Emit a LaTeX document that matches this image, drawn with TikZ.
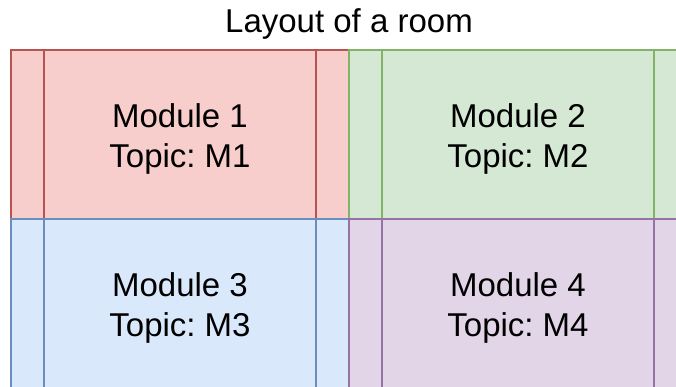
\documentclass[tikz,border=0pt]{standalone}
\usepackage{fontspec}
\setmainfont{Liberation Sans}
\usetikzlibrary{positioning}

\definecolor{fillred}{HTML}{F8CECC}
\definecolor{linered}{HTML}{B85450}
\definecolor{fillgreen}{HTML}{D5E8D4}
\definecolor{linegreen}{HTML}{82B366}
\definecolor{fillblue}{HTML}{DAE8FC}
\definecolor{lineblue}{HTML}{6C8EBF}
\definecolor{fillpurple}{HTML}{E1D5E7}
\definecolor{linepurple}{HTML}{9673A6}

\tikzset{
    module/.style={rectangle, draw=line#1, fill=fill#1, line width=2pt,
        minimum width=338pt, minimum height=169pt, inner sep=0pt},
    label/.style={align=center, font=\fontsize{33}{40}\selectfont\frenchspacing},
    title/.style={font=\fontsize{33}{40}\selectfont}
}

\begin{document}
\begin{tikzpicture}[x=1pt,y=-1pt]
        \useasboundingbox (0,0) rectangle (676,387);
        \clip (0,0) rectangle (676,387);
        \node[title] (title) at (349,24) {Layout of a room};
        \foreach \n/\col/\x/\y in {1/red/180/134.5,2/green/518/134.5,3/blue/180/303.5,4/purple/518/303.5} {
            \node[module=\col] (m\n) at (\x,\y) {};
            % side bars of each module
            \draw[line\col, line width=2pt] ([xshift=34pt]m\n.north west) -- ([xshift=34pt]m\n.south west);
            \draw[line\col, line width=2pt] ([xshift=-34pt]m\n.north east) -- ([xshift=-34pt]m\n.south east);
            \node[label] (t\n) at ([yshift=-4pt]m\n.center) {Module \n\\Topic: M\n};
        }
    \end{tikzpicture}
\end{document}
